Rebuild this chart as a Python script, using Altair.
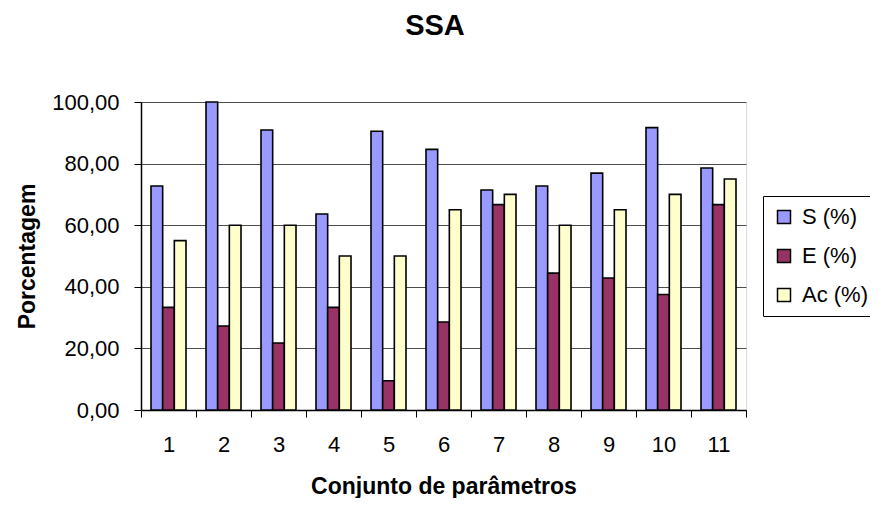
import altair as alt
import pandas as pd

grupos = [str(i) for i in range(1, 12)]
series = ["S (%)", "E (%)", "Ac (%)"]
s_vals = [72.73, 100.00, 90.91, 63.64, 90.48, 84.62, 71.43, 72.73, 76.92, 91.67, 78.57]
e_vals = [33.33, 27.27, 21.74, 33.33, 9.52, 28.57, 66.67, 44.44, 42.86, 37.50, 66.67]
ac_vals = [55.00, 60.00, 60.00, 50.00, 50.00, 65.00, 70.00, 60.00, 65.00, 70.00, 75.00]
cores = ["#9999FF", "#993366", "#FFFFCC"]
y_ticks = [0, 20, 40, 60, 80, 100]
titulo = "SSA"

rows = []
for name, vals in zip(series, [s_vals, e_vals, ac_vals]):
    for g, v in zip(grupos, vals):
        rows.append({"grupo": g, "serie": name, "valor": v})
df = pd.DataFrame(rows)

FONT = "Liberation Sans"

bars = alt.Chart(df).mark_bar(stroke="black", strokeWidth=1.6).encode(
    x=alt.X("grupo:O", sort=grupos,
            scale=alt.Scale(paddingInner=0, paddingOuter=0),
            axis=alt.Axis(title="Conjunto de parâmetros", labelAngle=0,
                          tickBand="extent", tickSize=7, tickColor="black",
                          domainColor="black", domainWidth=1.5,
                          labelPadding=17, labelFontSize=22, labelColor="black",
                          labelFont=FONT, titleFont=FONT, titleFontSize=23,
                          titleFontWeight="bold", titleColor="black",
                          titleX=302.5, titleY=83, titleBaseline="alphabetic",
                          titleAlign="center", grid=False)),
    xOffset=alt.XOffset("serie:N", sort=series,
                        scale=alt.Scale(domain=series, paddingOuter=0.857, paddingInner=0)),
    y=alt.Y("valor:Q",
            scale=alt.Scale(domain=[0, 100], nice=False),
            axis=alt.Axis(title="Porcentagem", values=y_ticks,
                          labelExpr="replace(format(datum.value, '.2f'), '.', ',')",
                          tickSize=7, tickColor="black", domainColor="black",
                          domainWidth=1.5, labelPadding=15, labelFontSize=22,
                          labelColor="black", labelFont=FONT,
                          titleFont=FONT, titleFontSize=23, titleFontWeight="bold",
                          titleColor="black", titleAngle=270, titleX=-114, titleY=154,
                          titleBaseline="middle", titleAlign="center",
                          grid=True, gridColor="#4d4d4d", gridWidth=1.2)),
    color=alt.Color("serie:N", sort=series,
                    scale=alt.Scale(domain=series, range=cores),
                    legend=alt.Legend(title=None, orient="none", legendX=622, legendY=94,
                                      strokeColor="black", padding=10, fillColor="white",
                                      labelFontSize=22, labelFont=FONT, labelColor="black",
                                      symbolType="square", symbolSize=169,
                                      symbolStrokeColor="black", symbolStrokeWidth=1.5,
                                      rowPadding=17, labelOffset=7)),
)

title_text = alt.Chart(pd.DataFrame({"t": [titulo]})).mark_text(
    font=FONT, fontSize=29, fontWeight="bold", color="black",
    align="center", baseline="alphabetic"
).encode(text="t:N", x=alt.value(294), y=alt.value(-67))

chart = alt.layer(bars, title_text).properties(
    width=605, height=308,
    autosize=alt.AutoSizeParams(type="none"),
    padding={"left": 133, "top": 94, "right": 124, "bottom": 88},
).configure_view(stroke="#808080", strokeWidth=1.5).configure(background="white")

chart.save("out.html", embed_options={"renderer": "svg", "actions": False})
